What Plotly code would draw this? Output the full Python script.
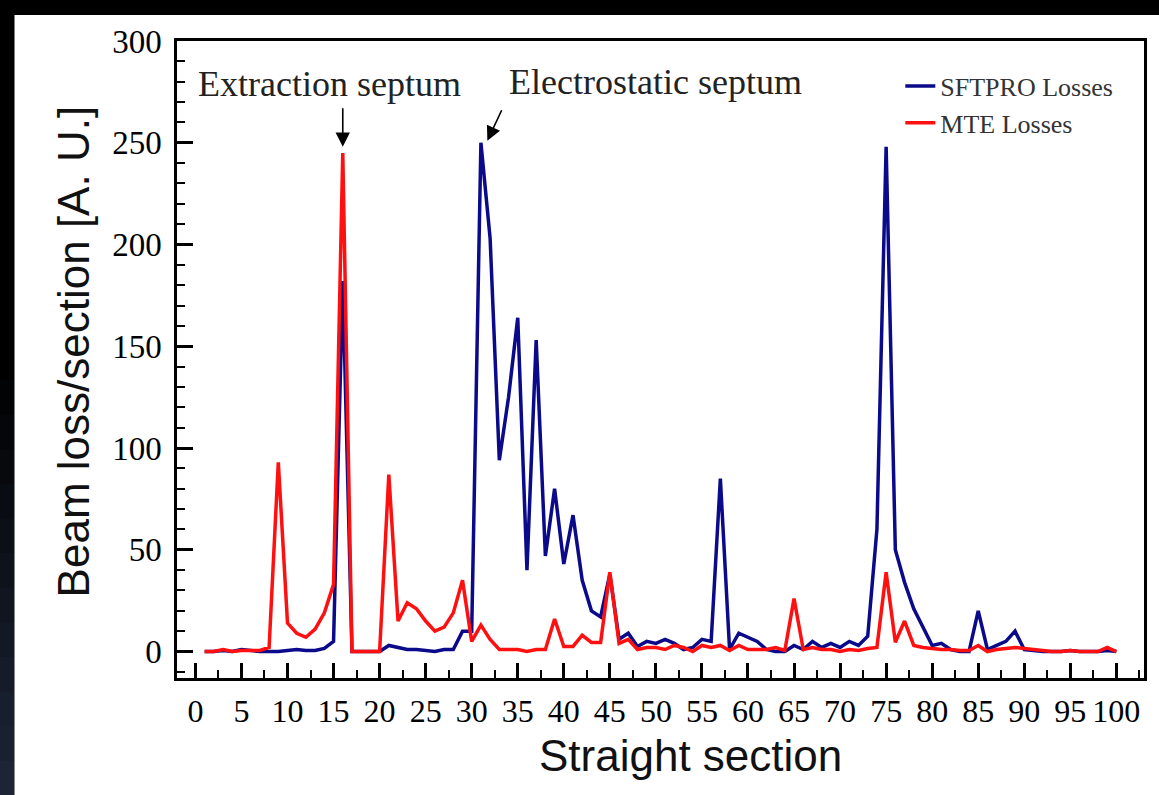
import plotly.graph_objects as go

sections = list(range(1, 101))

sftpro = [0, 0, 0.5, 0, 1, 0.5, 0, 0, 0, 0.5,
          1, 0.5, 0.5, 1.5, 5, 182, 0, 0, 0, 0,
          3, 2, 1, 1, 0.5, 0, 1, 1, 10, 10,
          250, 203, 94, 125, 164, 40, 153, 47, 80, 43,
          67, 35, 20, 17, 38, 6, 9, 2.5, 5, 4,
          6, 4, 1, 2, 6, 5, 85, 1, 9, 7,
          5, 1, 0, 0, 3, 1, 5, 2, 4, 2,
          5, 3, 7.5, 60, 248, 50, 34, 21, 12, 3,
          4, 1, 0, 0, 20, 1, 3, 5, 10, 1,
          0.5, 0, 0, 0, 0.5, 0, 0, 0, 0.5, 0]

mte = [0, 0, 1, 0, 0.5, 0.5, 0.5, 2, 93, 14,
       9, 7, 11, 19, 33, 245, 0, 0, 0, 0,
       87, 15, 24, 21, 15, 10, 12, 19, 35, 5,
       13, 6, 1, 1, 1, 0, 1, 1, 16, 2.5,
       2.5, 8, 4.5, 4.5, 39, 4, 6, 1, 2, 2,
       1, 3, 2, 0, 3, 2, 3, 0.5, 3, 1,
       1, 1, 2, 0.5, 26, 1, 2, 1, 1, 0,
       1, 0.5, 1.5, 2, 39, 4.6, 15, 3, 2, 1.5,
       1, 1, 0.5, 0.5, 3, 0, 1, 1.5, 2, 1.5,
       1, 0.5, 0, 0, 0.5, 0, 0, 0, 2, 0]

series_names = ["SFTPRO Losses", "MTE Losses"]
series_colors = ["#0a0a8a", "#ff1010"]

x_title = "Straight section"
y_title = "Beam loss/section [A. U.]"

annot_texts = ["Extraction septum", "Electrostatic septum"]
annot_x = [14.6, 50.0]
annot_y = [279, 280]
arrow_x = [16, 31.7]
arrow_y = [248, 251]

fig = go.Figure()
for vals, name, col in zip([sftpro, mte], series_names, series_colors):
    fig.add_trace(go.Scatter(x=sections, y=vals, mode="lines", name=name,
                             line=dict(color=col, width=3.5)))

xtickfont = dict(family="Liberation Serif", size=32, color="black")
ytickfont = dict(family="Liberation Serif", size=33, color="black")

# page backdrop: white card on a dark frame whose left edge fades to navy
shapes = []
n_band = 12
for i in range(n_band):
    f = (i + 1) / n_band
    r, g, b = int(28 * f), int(36 * f), int(54 * f)
    py0 = 380 + i * (415 / n_band)
    py1 = py0 + 415 / n_band + 1
    shapes.append(dict(type="rect", xref="paper", yref="paper",
                       x0=(0 - 177) / 970 - 0.01, x1=(14 - 177) / 970,
                       y0=1 - (py1 - 41) / 637, y1=1 - (py0 - 41) / 637,
                       fillcolor=f"rgb({r},{g},{b})", line=dict(width=0),
                       layer="below"))
shapes.append(dict(type="rect", xref="paper", yref="paper",
                   x0=(14 - 177) / 970, x1=1.05, y0=-0.25, y1=1 - (15 - 41) / 637,
                   fillcolor="white", line=dict(width=0), layer="below"))

fig.update_layout(
    width=1159, height=795,
    margin=dict(l=177, r=12, t=41, b=117),
    paper_bgcolor="black",
    plot_bgcolor="white",
    showlegend=True,
    legend=dict(x=0.748, y=0.966, xanchor="left", yanchor="top",
                bgcolor="rgba(0,0,0,0)",
                font=dict(family="Liberation Serif", size=26, color="#333333"),
                tracegroupgap=0),
    xaxis=dict(range=[-2, 103], dtick=5, tick0=0, ticks="inside", ticklen=15,
               tickwidth=2.5, tickcolor="black", showline=True, linewidth=2.5,
               linecolor="black", mirror=True, showgrid=False, zeroline=False,
               tickfont=xtickfont, ticklabelstandoff=3,
               minor=dict(dtick=2.5, ticks="inside", ticklen=8, tickwidth=2,
                          tickcolor="black", showgrid=False)),
    yaxis=dict(range=[-13, 300], dtick=50, tick0=0, ticks="inside", ticklen=16,
               tickwidth=2.5, tickcolor="black", showline=True, linewidth=2.5,
               linecolor="black", mirror=True, showgrid=False, zeroline=False,
               tickfont=ytickfont, ticklabelstandoff=6,
               minor=dict(dtick=10, ticks="inside", ticklen=8, tickwidth=2,
                          tickcolor="black", showgrid=False)),
    shapes=shapes,
)

anns = []
for t, x, y in zip(annot_texts, annot_x, annot_y):
    anns.append(dict(x=x, y=y, xref="x", yref="y", text=t, showarrow=False,
                     xanchor="center", yanchor="middle",
                     font=dict(family="Liberation Serif", size=36, color="#222222")))
anns.append(dict(x=arrow_x[0], y=arrow_y[0], xref="x", yref="y", text="",
                 showarrow=True, ax=0, ay=-40, arrowhead=2, arrowsize=1.8,
                 arrowwidth=1.6, arrowcolor="black"))
anns.append(dict(x=arrow_x[1], y=arrow_y[1], xref="x", yref="y", text="",
                 showarrow=True, ax=15, ay=-32, arrowhead=2, arrowsize=1.8,
                 arrowwidth=1.6, arrowcolor="black"))
anns.append(dict(x=0.531, y=-0.121, xref="paper", yref="paper", text=x_title,
                 xanchor="center", yanchor="middle", showarrow=False,
                 font=dict(family="Liberation Sans", size=44, color="#111111")))
anns.append(dict(x=-0.107, y=0.512, xref="paper", yref="paper", text=y_title,
                 xanchor="center", yanchor="middle", textangle=-90, showarrow=False,
                 font=dict(family="Liberation Sans", size=44, color="#111111")))
fig.update_layout(annotations=anns)

fig.write_html("out.html")
